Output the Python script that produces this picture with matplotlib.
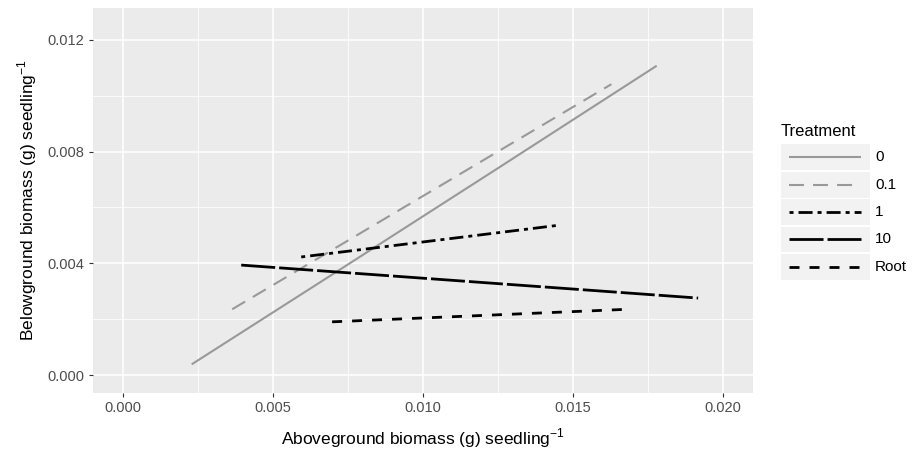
import numpy as np
import matplotlib
matplotlib.use("Agg")
import matplotlib.pyplot as plt
from matplotlib.lines import Line2D
from matplotlib.patches import Rectangle

plt.rcParams['font.family'] = ['Liberation Sans', 'DejaVu Sans']
plt.rcParams['mathtext.fontset'] = 'custom'
plt.rcParams['mathtext.rm'] = 'Liberation Sans'
plt.rcParams['lines.scale_dashes'] = False

# data (fitted lines per treatment)
x_0 = [0.0023, 0.0072, 0.0125, 0.0178]
y_0 = [0.00039, 0.00375, 0.00740, 0.01107]
x_01 = [0.00365, 0.01629]
y_01 = [0.00236, 0.01041]
x_1 = [0.00595, 0.01457]
y_1 = [0.00423, 0.00537]
x_10 = [0.00395, 0.01918]
y_10 = [0.00394, 0.00276]
x_root = [0.00698, 0.01685]
y_root = [0.00191, 0.00236]

labels = ['0', '0.1', '1', '10', 'Root']
xticks = [0.000, 0.005, 0.010, 0.015, 0.020]
yticks = [0.000, 0.004, 0.008, 0.012]

gray = '#999999'
styles = [
    dict(color=gray, lw=1.5, ls='-'),
    dict(color=gray, lw=1.5, ls=(0, (10.8, 6.5))),
    dict(color='black', lw=2.0, ls=(0, (2.9, 3.6, 10.1, 3.6))),
    dict(color='black', lw=2.0, ls=(0, (24.5, 2.9))),
    dict(color='black', lw=2.0, ls=(0, (7.2, 7.2))),
]
series = [(x_0, y_0), (x_01, y_01), (x_1, y_1), (x_10, y_10), (x_root, y_root)]

W, H = 916, 451
fig = plt.figure(figsize=(W / 100, H / 100), dpi=100)
ax = fig.add_axes([92.7 / W, 1 - 392.7 / H, 660 / W, 384.4 / H])
ax.set_facecolor('#EBEBEB')

for (xs, ys), st in zip(series, styles):
    ax.plot(xs, ys, solid_capstyle='butt', dash_capstyle='butt', **st)

ax.set_xlim(-0.001, 0.021)
ax.set_ylim(-0.000625, 0.013125)
ax.set_xticks(xticks)
ax.set_yticks(yticks)
ax.set_xticklabels([f'{v:.3f}' for v in xticks])
ax.set_yticklabels([f'{v:.3f}' for v in yticks])
ax.set_xticks(np.arange(0.0025, 0.021, 0.005), minor=True)
ax.set_yticks(np.arange(0.002, 0.013, 0.004), minor=True)
ax.grid(which='major', color='white', lw=1.1)
ax.grid(which='minor', color='white', lw=0.55)
ax.set_axisbelow(True)
for s in ax.spines.values():
    s.set_visible(False)
ax.tick_params(which='major', length=3, width=0.8, color='#333333',
               labelcolor='#4D4D4D', labelsize=10.5, pad=3)
ax.tick_params(which='minor', length=0)

ax.set_xlabel(r'Aboveground biomass (g) seedling$^{-1}$', fontsize=12.5)
ax.set_ylabel(r'Belowground biomass (g) seedling$^{-1}$', fontsize=12.5)
ax.xaxis.set_label_coords(0.5, -(438 - 392.7) / 384.4)
ax.xaxis.label.set_va('center')
ax.yaxis.set_label_coords(-(92.7 - 27) / 660, 0.5)
ax.yaxis.label.set_va('center')

# legend drawn by hand in pixel coordinates
def fx(px):
    return px / W

def fy(py):
    return 1 - py / H

fig.text(fx(780.7), fy(131.7), 'Treatment', fontsize=12, va='center', ha='left')
box_top = 144
for i, (lab, st) in enumerate(zip(labels, styles)):
    top = box_top + i * 27.5
    fig.patches.append(Rectangle((fx(780.7), fy(top + 26)), (870 - 780.7) / W, 26 / H,
                                 transform=fig.transFigure, facecolor='#F2F2F2',
                                 edgecolor='none'))
    yc = fy(top + 13)
    fig.lines.append(Line2D([fx(789), fx(861)], [yc, yc], transform=fig.transFigure,
                            solid_capstyle='butt', dash_capstyle='butt', **st))
    fig.text(fx(875), yc, lab, fontsize=11, va='center', ha='left')

fig.savefig('out.png', dpi=100)
